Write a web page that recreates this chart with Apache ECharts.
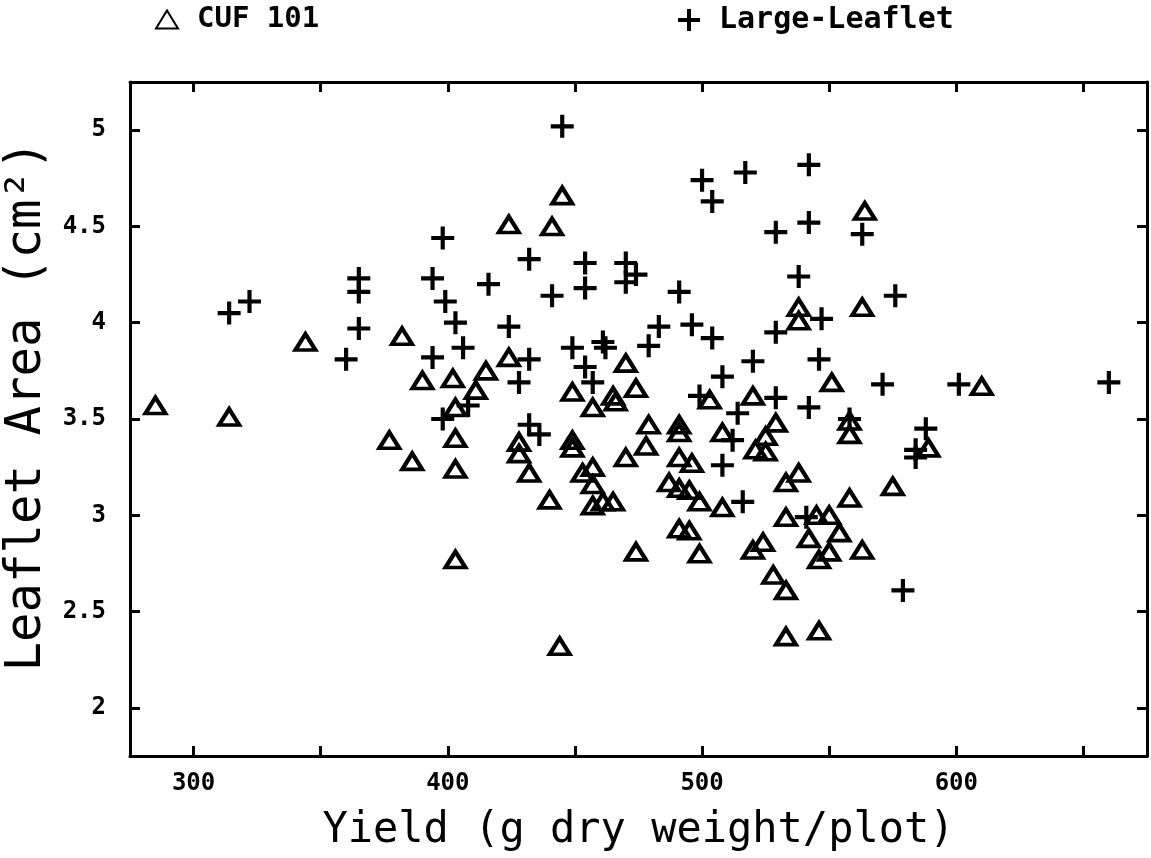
<!DOCTYPE html>
<html>
<head>
<meta charset="utf-8">
<script src="https://cdn.jsdelivr.net/npm/echarts@6/dist/echarts.min.js"></script>
<style>
html,body{margin:0;padding:0;background:#fff;}
#chart{width:1151px;height:858px;}
</style>
</head>
<body>
<div id="chart"></div>
<script>
// Tick positions / labels
const xTicks = [300, 350, 400, 450, 500, 550, 600, 650];
const xLabels = [300, 400, 500, 600];
const yTicks = [2, 2.5, 3, 3.5, 4, 4.5, 5];

// CUF 101 (triangles): [yield, leaflet area]
const cuf101 = [
  [285,3.57],[314,3.51],[344,3.90],[382,3.93],[390,3.70],[402,3.71],[403,3.56],[377,3.39],[386,3.28],[403,3.40],[403,3.24],[403,2.77],
  [411,3.65],[415,3.75],[424,3.82],[445,4.66],[424,4.51],[441,4.50],[470,3.79],[449,3.64],[457,3.56],[465,3.62],[466,3.59],[474,3.66],
  [503,3.60],[520,3.62],[538,4.08],[538,4.01],[564,4.58],[563,4.08],[551,3.69],[610,3.67],[558,3.49],[558,3.42],[589,3.35],[538,3.22],[575,3.15],[558,3.09],
  [428,3.38],[428,3.32],[432,3.22],[440,3.08],[449,3.39],[449,3.35],[453,3.22],[457,3.25],[457,3.16],[457,3.05],[461,3.07],[465,3.07],[470,3.30],[474,2.81],[444,2.32],
  [479,3.47],[478,3.36],[491,3.47],[491,3.43],[491,3.30],[496,3.27],[487,3.17],[491,3.14],[495,3.13],[499,3.07],[508,3.43],[508,3.04],[491,2.93],[495,2.92],[499,2.80],
  [529,3.48],[525,3.41],[521,3.34],[525,3.33],[533,3.17],[533,2.99],[545,3.00],[550,3.00],[542,2.88],[554,2.91],[550,2.81],[546,2.77],[563,2.82],[520,2.82],[524,2.86],[528,2.69],[533,2.61],[533,2.37],[546,2.40]
];

// Large-Leaflet (pluses): [yield, leaflet area]
const largeLeaflet = [
  [314,4.05],[322,4.11],[365,4.23],[365,4.16],[365,3.97],[360,3.81],[398,4.44],[394,4.23],[399,4.11],[403,4.00],[406,3.87],[394,3.82],[398,3.50],
  [424,3.98],[432,3.81],[428,3.69],[441,4.14],[449,3.87],[461,3.90],[462,3.87],[454,3.77],[457,3.69],[408,3.57],[432,3.47],
  [445,5.02],[432,4.33],[416,4.20],[454,4.31],[454,4.18],[470,4.31],[474,4.25],[470,4.21],[491,4.16],[500,4.74],[504,4.63],[517,4.78],[529,4.47],[542,4.82],[542,4.52],[538,4.24],[529,3.95],
  [479,3.88],[483,3.98],[496,3.99],[504,3.92],[520,3.80],[508,3.72],[529,3.61],[499,3.62],[514,3.53],[542,3.56],
  [547,4.02],[546,3.81],[571,3.68],[563,4.46],[576,4.14],[601,3.68],[660,3.69],
  [558,3.50],[588,3.45],[584,3.34],[584,3.30],[579,2.61],[512,3.39],[508,3.26],[516,3.07],[541,2.99],[436,3.42]
];

const MONO = '"DejaVu Sans Mono", monospace';
const PLUS = 'path://M9,0H13V9H22V13H13V22H9V13H0V9H9Z';

const chart = echarts.init(document.getElementById('chart'), null, {renderer: 'canvas'});

const axisLine = {show: true, onZero: false, lineStyle: {color: '#000', width: 3}};
const tickStyle = {color: '#000', width: 3};

const option = {
  backgroundColor: '#fff',
  animation: false,
  grid: {left: 130, right: 4, top: 82, bottom: 102, containLabel: false, outerBoundsMode: 'none'},
  legend: [
    {
      data: ['CUF 101'], left: 150, top: 0, itemWidth: 22, itemHeight: 18,
      textStyle: {fontFamily: MONO, fontWeight: 'bold', fontSize: 29, color: '#000', padding: [0, 0, 0, 14]}
    },
    {
      data: ['Large-Leaflet'], left: 673, top: 0, itemWidth: 22, itemHeight: 22,
      textStyle: {fontFamily: MONO, fontWeight: 'bold', fontSize: 30, color: '#000', padding: [0, 0, 0, 14]}
    }
  ],
  xAxis: [
    {
      type: 'value', min: 275, max: 675, position: 'bottom',
      axisLine: axisLine,
      axisTick: {show: true, inside: true, length: 10, lineStyle: tickStyle, customValues: xTicks},
      axisLabel: {customValues: xLabels, fontFamily: MONO, fontWeight: 'bold', fontSize: 24, color: '#000', margin: 16},
      splitLine: {show: false},
      name: 'Yield (g dry weight/plot)', nameLocation: 'middle', nameGap: 54, nameMoveOverlap: false,
      nameTextStyle: {fontFamily: MONO, fontSize: 42, color: '#000'}
    },
    {
      type: 'value', min: 275, max: 675, position: 'top',
      axisLine: axisLine,
      axisTick: {show: true, inside: true, length: 10, lineStyle: tickStyle, customValues: xTicks},
      axisLabel: {show: false},
      splitLine: {show: false}
    }
  ],
  yAxis: [
    {
      type: 'value', min: 1.75, max: 5.25, position: 'left',
      axisLine: axisLine,
      axisTick: {show: true, inside: true, length: 10, lineStyle: tickStyle, customValues: yTicks},
      axisLabel: {customValues: yTicks, fontFamily: MONO, fontWeight: 'bold', fontSize: 24, color: '#000', margin: 24},
      splitLine: {show: false},
      name: 'Leaflet Area (cm²)', nameLocation: 'middle', nameGap: 78, nameRotate: 90, nameMoveOverlap: false,
      nameTextStyle: {fontFamily: MONO, fontSize: 49, color: '#000', padding: [0, 0, 0, 26]}
    },
    {
      type: 'value', min: 1.75, max: 5.25, position: 'right',
      axisLine: axisLine,
      axisTick: {show: true, inside: true, length: 10, lineStyle: tickStyle, customValues: yTicks},
      axisLabel: {show: false},
      splitLine: {show: false}
    }
  ],
  series: [
    {
      name: 'CUF 101', type: 'scatter', xAxisIndex: 0, yAxisIndex: 0,
      data: cuf101, symbol: 'triangle', symbolSize: [20, 16],
      itemStyle: {color: 'rgba(0,0,0,0)', borderColor: '#000', borderWidth: 4, opacity: 1}
    },
    {
      name: 'Large-Leaflet', type: 'scatter', xAxisIndex: 0, yAxisIndex: 0,
      data: largeLeaflet, symbol: PLUS, symbolSize: 23,
      itemStyle: {color: '#000', opacity: 1}
    }
  ]
};
chart.setOption(option);
</script>
</body>
</html>
